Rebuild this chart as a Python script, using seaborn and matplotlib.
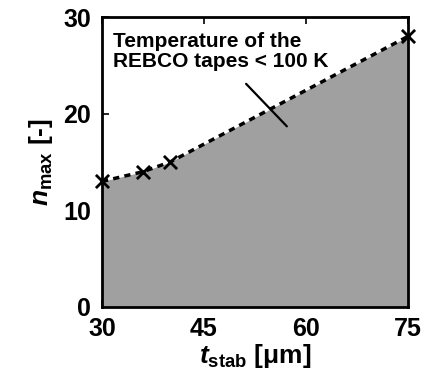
import matplotlib
matplotlib.use("Agg")
import matplotlib.pyplot as plt
import seaborn as sns
import pandas as pd

# stabilizer thickness [um] and max number of tapes
t_stab = [30, 36, 40, 75]
n_max = [13, 14, 15, 28]

label_text = "Temperature of the\nREBCO tapes < 100 K"
x_ticks = [30, 45, 60, 75]
y_ticks = [0, 10, 20, 30]

df = pd.DataFrame({"t_stab": t_stab, "n_max": n_max})

sns.set_style("ticks")
plt.rcParams["font.family"] = ["Liberation Sans", "DejaVu Sans"]
plt.rcParams["font.weight"] = "bold"
plt.rcParams["text.color"] = "black"
plt.rcParams["axes.labelcolor"] = "black"
plt.rcParams["xtick.color"] = "black"
plt.rcParams["ytick.color"] = "black"
plt.rcParams["axes.edgecolor"] = "black"
plt.rcParams["mathtext.fontset"] = "custom"
plt.rcParams["mathtext.rm"] = "Liberation Sans:bold"
plt.rcParams["mathtext.it"] = "Liberation Sans:bold:italic"
plt.rcParams["mathtext.bf"] = "Liberation Sans:bold"

fig = plt.figure(figsize=(4.27, 3.73), dpi=100)
ax = fig.add_axes([0.239, 0.177, 0.716, 0.777])

ax.fill_between(df["t_stab"], 0, df["n_max"], color="#a0a0a0", linewidth=0)
sns.lineplot(data=df, x="t_stab", y="n_max", ax=ax, color="black",
             linestyle=(0, (1.8, 1.5)), linewidth=2.5)
sns.scatterplot(data=df, x="t_stab", y="n_max", ax=ax, marker="x",
                color="black", s=90, linewidth=2, clip_on=False, zorder=5)

# annotation with pointer line
ax.text(31.6, 28.5, label_text, fontsize=15, fontweight="bold",
        va="top", ha="left", linespacing=1.1)
ax.plot([51.2, 57.2], [23.1, 18.7], color="black", linewidth=1.6)

ax.set_xlim(30, 75)
ax.set_ylim(0, 30)
ax.set_xticks(x_ticks)
ax.set_yticks(y_ticks)
ax.tick_params(direction="in", top=True, right=True, length=5, width=1.2,
               labelsize=18)
ax.tick_params(axis="x", pad=7)
ax.tick_params(axis="y", pad=8)
for lab in ax.get_xticklabels() + ax.get_yticklabels():
    lab.set_fontweight("bold")
for sp in ax.spines.values():
    sp.set_linewidth(2)
    sp.set_visible(True)

ax.set_xlabel(r"$\mathit{t}_{\mathrm{stab}}$ [μm]", fontsize=19,
              fontweight="bold", labelpad=1)
ax.set_ylabel(r"$\mathit{n}_{\mathrm{max}}$ [-]", fontsize=19,
              fontweight="bold", labelpad=6)

fig.savefig("out.png", dpi=100)
